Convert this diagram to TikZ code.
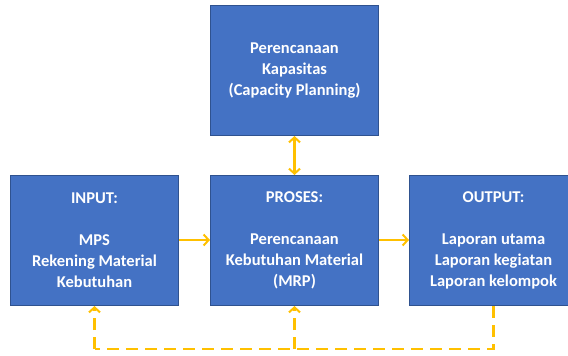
\documentclass[tikz,border=0pt]{standalone}
\usepackage{fontspec}
\setmainfont{Carlito}
\usetikzlibrary{arrows.meta}
\definecolor{boxblue}{HTML}{4472C4}
\definecolor{boxedge}{HTML}{2F528F}
\definecolor{flow}{HTML}{FFC000}
\begin{document}
\begin{tikzpicture}[x=1pt,y=-1pt,
  blockbox/.style={draw=boxedge,line width=1pt,fill=boxblue,minimum width=168pt,minimum height=130pt,
    anchor=north west,inner sep=0pt,text=white,font=\fontsize{16.5}{21}\selectfont\bfseries,align=center},
  barb/.tip={Straight Barb[length=5pt,width=11pt,line width=2pt]},
  flowarrow/.style={draw=flow,line width=2.4pt,-barb},
  dashy/.style={dash pattern=on 12pt off 7pt},
  flowdash/.style={draw=flow,line width=2.4pt,dashy}]
\useasboundingbox (0,0) rectangle (568,356);
\node[blockbox] (cap) at (210,5) {Perencanaan\\Kapasitas\\(Capacity Planning)};
\node[blockbox] (in) at (10,175) {INPUT:\\[21pt]MPS\\Rekening Material\\Kebutuhan};
\node[blockbox] (mrp) at (210,175) {PROSES:\\[21pt]Perencanaan\\Kebutuhan Material\\(MRP)};
% the right-hand block runs past the edge of the page
\node[blockbox] (out) at (409,175) {OUTPUT:\\[21pt]Laporan utama\\Laporan kegiatan\\Laporan kelompok};
\coordinate (turnR) at (out.south |- 0,349);
\coordinate (turnL) at (in.south |- 0,349);
\coordinate (midL) at (mrp.south |- 0,349);
\draw[flowarrow] (in.east |- 0,240) -- (mrp.west |- 0,240);
\draw[flowarrow] (mrp.east |- 0,240) -- (out.west |- 0,240);
\draw[flowarrow,barb-barb] (cap.south) -- (mrp.north);
\draw[flowdash] (out.south) -- (turnR) -- (turnL);
\draw[flowarrow,dashy] (turnL) -- (in.south);
\draw[flowarrow,dashy] (midL) -- (mrp.south);
\end{tikzpicture}
\end{document}
